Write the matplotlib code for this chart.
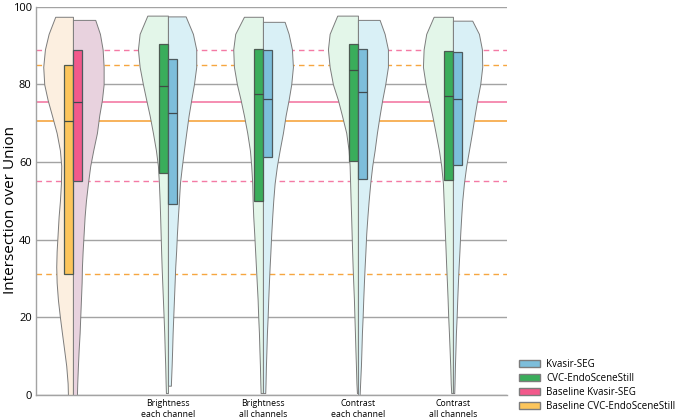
import matplotlib
matplotlib.use("Agg")
import matplotlib.pyplot as plt
from matplotlib.patches import Patch

plt.rcParams['font.family'] = ['Open Sans', 'DejaVu Sans']

# categories on the x axis (first one is the baseline, no label)
groups = ["", "Brightness\neach channel", "Brightness\nall channels",
          "Contrast\neach channel", "Contrast\nall channels"]

# IoU levels where the violin widths were read
levels = [93, 89, 84.5, 80, 76, 72, 67.5, 63, 59, 54.5, 50, 46, 41.5,
          37, 33, 29, 24.5, 20, 16, 11.5, 7.5, 3]

# half violins: top, width at top, widths at levels, bottom, width at bottom
cvc_violins = [
    (97.4, 17.7, [24.3, 28, 29.7, 28.7, 25.3, 21, 16.3, 13, 11.7, 12, 13, 14.3,
                  15.3, 16.3, 16.7, 16.3, 15, 13, 11, 8.7, 6.7, 5.3], 0, 5),
    (97.7, 20.6, [28.3, 30, 28.3, 25, 21.7, 18.3, 15, 12, 10, 9, 8.3, 7.8,
                  7.3, 6.8, 6.3, 5.7, 5, 4.3, 3.7, 3.2, 2.7, 2.3], 0.5, 2),
    (97.4, 19, [27.7, 29.7, 29, 26, 22.3, 19, 15.7, 13, 11.7, 10.7, 10.3, 9.7,
                8.7, 7.8, 7, 6.2, 5.3, 4.7, 4, 3.5, 3, 2.6], 0.5, 2.3),
    (97.7, 20.7, [28.3, 30, 28.3, 25, 20, 16, 11.7, 9.3, 8.3, 7.8, 7.3, 6.8,
                  6.3, 5.8, 5.3, 4.7, 4, 3.5, 3, 2.5, 2, 1.5], 0.5, 1),
    (97.4, 19.3, [26.7, 29.3, 30, 27.3, 24, 20.7, 17.3, 14, 11.7, 10, 9.3, 8.7,
                  8, 7.3, 6.7, 6, 5.3, 4.7, 4, 3.3, 2.7, 2.2], 0.5, 1.7),
]
kvasir_violins = [
    (96.6, 22.3, [27, 29.7, 30.7, 30.7, 29, 26.3, 24, 20.3, 17.3, 15, 13, 11.7,
                  10.7, 9.7, 9, 8.7, 8, 7.3, 6.7, 5.7, 5, 4.3], 0, 4),
    (97.5, 17.7, [25, 28.3, 28.3, 26, 23.3, 20.7, 18.3, 16, 14, 12, 11, 10,
                  9, 8.2, 7.3, 6.7, 6, 5.3, 4.7, 4.2, 3.7, 3], 2.4, 3),
    (96.1, 21.7, [25.7, 29, 30, 28.3, 25.7, 22.7, 20, 16.7, 14, 11.7, 10.3, 9.3,
                  8.3, 7.5, 6.7, 6, 5.3, 4.7, 4, 3.5, 3, 2.6], 0.5, 2.3),
    (96.6, 21.7, [26.7, 30, 30, 27.3, 24.3, 21.7, 19, 16.7, 14.3, 12.3, 10.7, 9.5,
                  8.3, 7.5, 6.7, 6, 5.3, 4.7, 4, 3.5, 3, 2.2], 0, 1.7),
    (96.4, 19.3, [26, 29, 29.3, 27.3, 24.3, 21.7, 19, 16, 13.3, 11, 9.3, 8.3,
                  7.3, 6.5, 5.7, 5, 4.3, 3.7, 3, 2.5, 2, 1.6], 0.5, 1.3),
]

# box quartiles (q1, median, q3)
cvc_q1 = [31.2, 57.3, 49.9, 60.3, 55.3]
cvc_med = [70.5, 79.6, 77.6, 83.6, 76.9]
cvc_q3 = [85.0, 90.3, 89.1, 90.3, 88.6]
kvasir_q1 = [55.2, 49.1, 61.2, 55.6, 59.3]
kvasir_med = [75.5, 72.5, 76.3, 78.1, 76.3]
kvasir_q3 = [88.9, 86.6, 88.9, 89.2, 88.4]

# colours
violin_light = {"cvc": "#e3f6e9", "kvasir": "#d9f0f6"}
base_light = {"cvc": "#fcefe0", "kvasir": "#e8d2de"}
box_col = {"cvc": "#3aad5b", "kvasir": "#7dbedb"}
base_box = {"cvc": "#fcc55b", "kvasir": "#f2598b"}
line_col = {"cvc": "#f6a640", "kvasir": "#f47aa4"}

scale = 1 / 95.0   # violin width units -> category spacing
box_w = 0.098

fig = plt.figure(figsize=(6.77, 4.18), dpi=100)
ax = fig.add_axes([0.053, 0.055, 0.696, 0.929])

ax.set_ylim(0, 100)
ax.set_xlim(-0.39, 4.57)
ax.set_yticks([0, 20, 40, 60, 80, 100])
ax.yaxis.grid(True, color="#a3a3a3", lw=1.0, zorder=0)
ax.set_axisbelow(True)

# baseline reference lines
ax.axhline(cvc_q3[0], color=line_col["cvc"], ls=(0, (4, 3)), lw=1.0, zorder=1)
ax.axhline(cvc_q1[0], color=line_col["cvc"], ls=(0, (4, 3)), lw=1.0, zorder=1)
ax.axhline(cvc_med[0], color=line_col["cvc"], lw=1.2, zorder=1)
ax.axhline(kvasir_q3[0], color=line_col["kvasir"], ls=(0, (4, 3)), lw=1.0, zorder=1)
ax.axhline(kvasir_q1[0], color=line_col["kvasir"], ls=(0, (4, 3)), lw=1.0, zorder=1)
ax.axhline(kvasir_med[0], color=line_col["kvasir"], lw=1.2, zorder=1)


def half_violin(c, spec, side, color):
    top, top_w, ws, bottom, bottom_w = spec
    ys = [top]
    xs = [top_w]
    for lv, w in zip(levels, ws):
        if bottom < lv < top:
            ys.append(lv)
            xs.append(w)
    ys.append(bottom)
    xs.append(bottom_w)
    xs = [w * scale for w in xs]
    if side == "left":
        ax.fill_betweenx(ys, [c - w for w in xs], c, facecolor=color,
                         edgecolor="#7c7c7c", lw=0.7, zorder=2)
    else:
        ax.fill_betweenx(ys, c, [c + w for w in xs], facecolor=color,
                         edgecolor="#7c7c7c", lw=0.7, zorder=2)


for i in range(len(groups)):
    lc = base_light if i == 0 else violin_light
    bc = base_box if i == 0 else box_col
    half_violin(i, cvc_violins[i], "left", lc["cvc"])
    half_violin(i, kvasir_violins[i], "right", lc["kvasir"])
    ax.bar(i, cvc_q3[i] - cvc_q1[i], bottom=cvc_q1[i], width=-box_w,
           align="edge", color=bc["cvc"], edgecolor="#4d5a52", lw=0.9, zorder=3)
    ax.bar(i, kvasir_q3[i] - kvasir_q1[i], bottom=kvasir_q1[i], width=box_w,
           align="edge", color=bc["kvasir"], edgecolor="#4d5a5e", lw=0.9, zorder=3)
    ax.hlines(cvc_med[i], i - box_w, i, color="#3f4a44", lw=0.9, zorder=4)
    ax.hlines(kvasir_med[i], i, i + box_w, color="#3f4a4e", lw=0.9, zorder=4)

ax.set_xticks(range(len(groups)))
ax.set_xticklabels(groups, fontsize=6.3, linespacing=1.2)
ax.tick_params(axis="both", length=0)
ax.tick_params(axis="x", pad=3)
ax.tick_params(axis="y", labelsize=8, pad=3)
ax.set_ylabel("Intersection over Union", fontsize=11)
ax.yaxis.set_label_coords(-0.039, 0.477)

for s in ["top", "right"]:
    ax.spines[s].set_visible(False)
for s in ["left", "bottom"]:
    ax.spines[s].set_color("#a3a3a3")
    ax.spines[s].set_linewidth(1.0)

handles = [
    Patch(facecolor=box_col["kvasir"], edgecolor="#7c7c7c", label="Kvasir-SEG"),
    Patch(facecolor=box_col["cvc"], edgecolor="#7c7c7c", label="CVC-EndoSceneStill"),
    Patch(facecolor=base_box["kvasir"], edgecolor="#7c7c7c", label="Baseline Kvasir-SEG"),
    Patch(facecolor=base_box["cvc"], edgecolor="#7c7c7c", label="Baseline CVC-EndoSceneStill"),
]
fig.legend(handles=handles, loc="lower left", bbox_to_anchor=(0.755, -0.004),
           frameon=False, fontsize=7, handlelength=2.2, handleheight=0.75,
           labelspacing=0.3, handletextpad=0.6, borderpad=0.3)

fig.savefig("out.png", dpi=100)
